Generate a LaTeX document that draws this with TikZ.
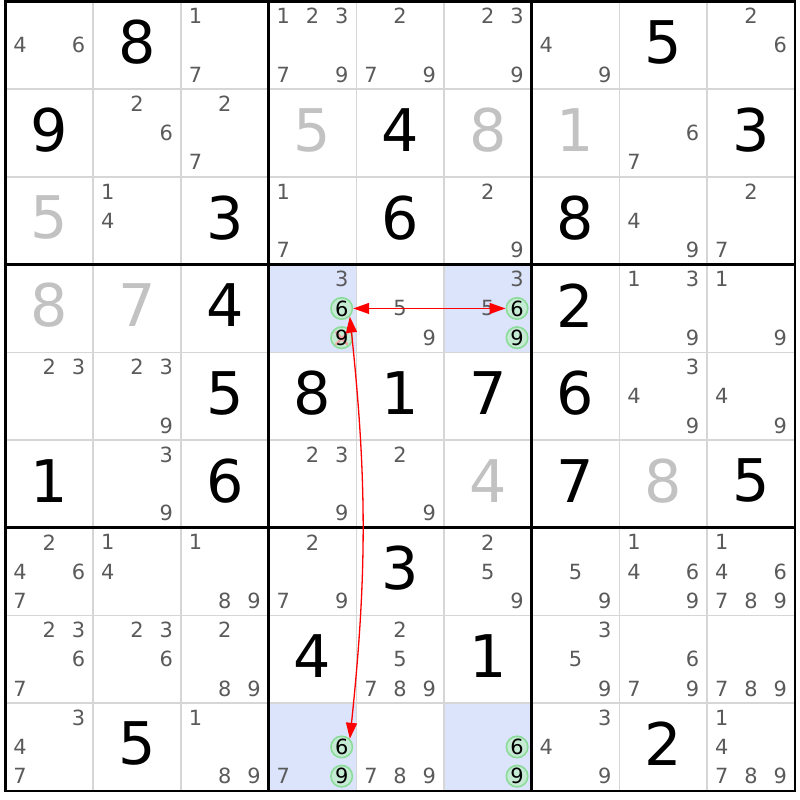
\documentclass[tikz,border=0pt]{standalone}
\usepackage{fontspec}
\setmainfont{DejaVu Sans}
\usetikzlibrary{arrows.meta}
\definecolor{candgray}{HTML}{5A5A5A}
\definecolor{solvedgray}{HTML}{C2C2C2}
\definecolor{gridgray}{HTML}{D6D6D6}
\definecolor{hiblue}{HTML}{DCE4FC}
\definecolor{linkfill}{HTML}{C6EBD4}
\definecolor{linkdraw}{HTML}{8ADC98}
\definecolor{crossred}{HTML}{F2A0A0}
\begin{document}
\begin{tikzpicture}[x=87.7bp, y=-87.7bp,
  cand/.style={text=candgray, font=\fontsize{21}{21}\selectfont, inner sep=0pt},
  given/.style={font=\fontsize{59}{59}\selectfont, inner sep=0pt, yshift=3bp},
  solved/.style={given, text=solvedgray},
  link/.style={circle, draw=linkdraw, fill=linkfill, line width=1.6bp,
               minimum size=21.5bp, inner sep=0pt, font=\fontsize{21}{21}\selectfont},
  kept/.style={},
  struck/.style={path picture={\draw[crossred, line width=2.2bp]
      (path picture bounding box.center) +(-6bp,-7bp) -- +(7bp,6bp)
      +(-6bp,6bp) -- +(6bp,-7bp);}},
  chain/.style={red, line width=1.3bp,
      {Triangle[length=16bp,width=11bp]}-{Triangle[length=16bp,width=11bp]}}]
\useasboundingbox (-0.0627,-0.0171) rectangle (9.0593,9.1049);

% cells of the chain
\foreach \r/\c in {4/4,4/6,9/4,9/6}
  \fill[hiblue] (\c-1,\r-1) rectangle (\c,\r);

% grid
\foreach \i in {1,2,4,5,7,8} {
  \draw[gridgray, line width=1.5bp] (\i,0) -- (\i,9);
  \draw[gridgray, line width=1.5bp] (0,\i) -- (9,\i);
}
\foreach \i in {3,6} {
  \draw[line width=2.5bp] (\i,0) -- (\i,9);
  \draw[line width=2.5bp] (0,\i) -- (9,\i);
}
\draw[line width=2.5bp] (0,0) rectangle (9,9);

% givens and solved cells
\foreach \r/\c/\v in {1/2/8, 1/8/5, 2/1/9, 2/5/4, 2/9/3, 3/3/3, 3/5/6, 3/7/8,
    4/3/4, 4/7/2, 5/3/5, 5/4/8, 5/5/1, 5/6/7, 5/7/6, 6/1/1, 6/3/6, 6/7/7,
    6/9/5, 7/5/3, 8/4/4, 8/6/1, 9/2/5, 9/8/2}
  \node[given] (g\r\c) at (\c-0.5,\r-0.5) {\v};
\foreach \r/\c/\v in {2/4/5, 2/6/8, 2/7/1, 3/1/5, 4/1/8, 4/2/7, 6/6/4, 6/8/8}
  \node[solved] (g\r\c) at (\c-0.5,\r-0.5) {\v};

% pencil marks
\foreach \r/\c/\ds in {1/1/{4,6}, 1/3/{1,7}, 1/4/{1,2,3,7,9}, 1/5/{2,7,9},
    1/6/{2,3,9}, 1/7/{4,9}, 1/9/{2,6}, 2/2/{2,6}, 2/3/{2,7}, 2/8/{6,7},
    3/2/{1,4}, 3/4/{1,7}, 3/6/{2,9}, 3/8/{4,9}, 3/9/{2,7},
    4/4/{3}, 4/5/{5,9}, 4/6/{3,5}, 4/8/{1,3,9}, 4/9/{1,9},
    5/1/{2,3}, 5/2/{2,3,9}, 5/8/{3,4,9}, 5/9/{4,9},
    6/2/{3,9}, 6/4/{2,3,9}, 6/5/{2,9},
    7/1/{2,4,6,7}, 7/2/{1,4}, 7/3/{1,8,9}, 7/4/{2,7,9}, 7/6/{2,5,9},
    7/7/{5,9}, 7/8/{1,4,6,9}, 7/9/{1,4,6,7,8,9},
    8/1/{2,3,6,7}, 8/2/{2,3,6}, 8/3/{2,8,9}, 8/5/{2,5,7,8,9}, 8/7/{3,5,9},
    8/8/{6,7,9}, 8/9/{7,8,9},
    9/1/{3,4,7}, 9/3/{1,8,9}, 9/4/{7}, 9/5/{7,8,9}, 9/7/{3,4,9}, 9/9/{1,4,7,8,9}}
  \foreach \d in \ds
    \node[cand] (n\r\c\d) at ({\c-1+(mod(\d-1,3)+0.5)/3},{\r-1+(floor((\d-1)/3)+0.5)/3}) {\d};

% linked 6s and 9s
\foreach \r/\c/\d/\mark in {4/4/6/kept, 4/4/9/struck, 4/6/6/kept, 4/6/9/kept,
    9/4/6/kept, 9/4/9/kept, 9/6/6/kept, 9/6/9/kept}
  \node[link,\mark] (n\r\c\d) at ({\c-1+(mod(\d-1,3)+0.5)/3},{\r-1+(floor((\d-1)/3)+0.5)/3}) {\d};

\draw[chain] (n446.east) -- (n466.west);
\draw[chain] (n446.south east) to[bend left=6] (n946.north east);
\end{tikzpicture}
\end{document}
